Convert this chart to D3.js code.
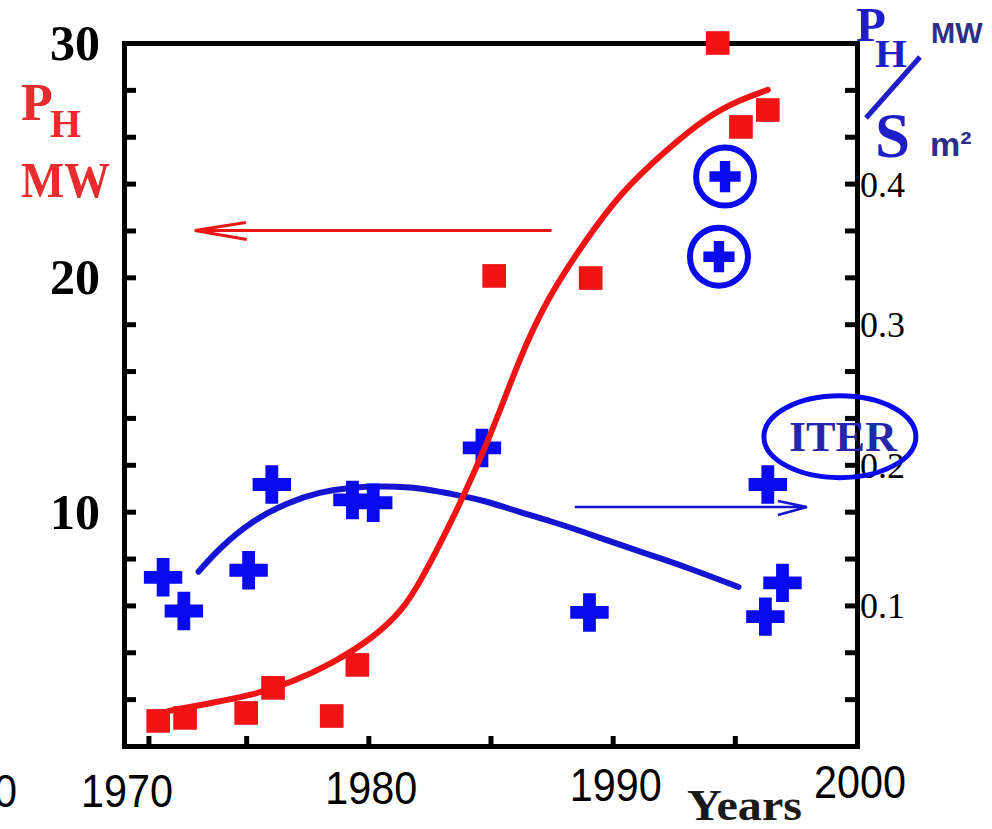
<!DOCTYPE html>
<html>
<head>
<meta charset="utf-8">
<script src="https://cdn.jsdelivr.net/npm/d3@7"></script>
<style>
  html, body { margin: 0; padding: 0; background: #fff; }
  svg { display: block; }
</style>
</head>
<body>
<script>
// Heating power P_H (MW) and power per unit surface P_H/S (MW/m²) versus year

// red squares: heating power, MW
const powerYears = [1971.4, 1972.5, 1975.0, 1976.1, 1978.5, 1979.55, 1985.15, 1989.1, 1994.3, 1995.25, 1996.35];
const powerMW    = [1.07, 1.2, 1.41, 2.48, 1.28, 3.46, 20.06, 19.97, 30.0, 26.42, 27.14];

// blue crosses: power per surface, MW/m²
const densityYears = [1971.6, 1972.45, 1975.1, 1976.05, 1979.35, 1980.2, 1984.65, 1989.05, 1996.35, 1996.95, 1996.25];
const densityVals  = [0.12, 0.096, 0.125, 0.186, 0.175, 0.173, 0.212, 0.095, 0.186, 0.116, 0.092];

// circled crosses (design values)
const circledYears = [1994.6, 1994.35];
const circledVals  = [0.405, 0.348];

// trend curve through the power points
const powerFitYears = [1971.8, 1973.8, 1975.3, 1976.9, 1978.55, 1980.2, 1981.4, 1982.1, 1983.45, 1985.0, 1986.2, 1987.3, 1988.7, 1990.3, 1992.2, 1993.85, 1995.2, 1996.35];
const powerFitMW    = [1.49, 1.88, 2.18, 2.73, 3.54, 4.61, 5.8, 6.95, 9.65, 13.19, 16.6, 19.04, 21.3, 23.6, 25.44, 26.85, 27.57, 28.0];

// trend curve through the power-per-surface points
const densityFitYears = [1973.05, 1973.95, 1975.3, 1976.65, 1978.0, 1979.35, 1980.7, 1982.25, 1983.35, 1984.7, 1986.2, 1987.45, 1988.7, 1990.2, 1991.55, 1992.9, 1995.15];
const densityFitVals  = [0.124, 0.1416, 0.1608, 0.1729, 0.1807, 0.1842, 0.1849, 0.1835, 0.1793, 0.175, 0.1662, 0.16, 0.1529, 0.1437, 0.1358, 0.128, 0.1131];

// axis ticks and labels
const yearLabels     = [1970, 1980, 1990, 2000];
const yearTicks      = [1971, 1975, 1980, 1985, 1990, 1995];
const powerLabels    = [10, 20, 30];
const powerTicks     = [2, 4, 6, 8, 10, 12, 14, 16, 18, 20, 22, 24, 26, 28];
const densityLabels  = [0.1, 0.2, 0.3, 0.4];

const W = 992, H = 829;
const plotLeft = 124, plotRight = 857, plotTop = 43, plotBottom = 746;

const RED = "#f01414", RED_TEXT = "#e62c2c", BLUE = "#0a0af0", BLUE_LINE = "#1414d2",
      BLUE_TEXT = "#1e1ec8", NAVY = "#2e2e88";
const serif = "Liberation Serif, Times New Roman, serif";
const sans = "Liberation Sans, Arial, Helvetica, sans-serif";

const svg = d3.select("body").append("svg")
  .attr("width", W).attr("height", H)
  .style("background", "#fff");

const x  = d3.scaleLinear().domain([1970, 2000]).range([plotLeft, plotRight]);
const yP = d3.scaleLinear().domain([0, 30]).range([plotBottom, plotTop]);
const yD = d3.scaleLinear().domain([0, 0.5]).range([plotBottom, plotTop]);

// ---- frame and axes ----
const styleAxis = g => {
  g.select(".domain").attr("stroke", "#000").attr("stroke-width", 5).attr("stroke-linecap", "square");
  g.selectAll(".tick line").attr("stroke", "#000").attr("stroke-width", 5);
  g.selectAll(".tick text").remove();
};

svg.append("g").attr("transform", `translate(${plotLeft},0)`)
  .call(d3.axisLeft(yP).tickValues(powerTicks).tickSize(-12).tickSizeOuter(0).tickFormat(""))
  .call(styleAxis);

svg.append("g").attr("transform", `translate(${plotRight},0)`)
  .call(d3.axisRight(yP).tickValues(powerTicks).tickSize(-12).tickSizeOuter(0).tickFormat(""))
  .call(styleAxis);

svg.append("g").attr("transform", `translate(0,${plotBottom})`)
  .call(d3.axisBottom(x).tickValues(yearTicks).tickSize(-10).tickSizeOuter(0).tickFormat(""))
  .call(styleAxis);

svg.append("g").attr("transform", `translate(0,${plotTop})`)
  .call(d3.axisTop(x).tickValues([]).tickSizeOuter(0))
  .call(styleAxis);

// left tick labels
svg.append("g").selectAll("text").data(powerLabels).join("text")
  .attr("x", 100).attr("y", d => yP(d) + 17)
  .attr("text-anchor", "end")
  .attr("font-family", serif)
  .attr("font-weight", "bold").attr("font-size", 50)
  .attr("fill", "#000")
  .text(d => d);

// right tick labels
svg.append("g").selectAll("text").data(densityLabels).join("text")
  .attr("x", 860).attr("y", d => yD(d) + 13)
  .attr("font-family", serif)
  .attr("font-size", 36)
  .attr("fill", "#000")
  .text(d => d3.format(".1f")(d));

// year labels
svg.append("g").selectAll("text").data(yearLabels).join("text")
  .attr("x", d => x(d) + 3).attr("y", (d, i) => 807 - i * 3)
  .attr("text-anchor", "middle")
  .attr("font-family", sans)
  .attr("font-size", 47)
  .attr("textLength", 92).attr("lengthAdjust", "spacingAndGlyphs")
  .attr("fill", "#000")
  .text(d => d);

// partial label at the very left edge
svg.append("text")
  .attr("x", 17).attr("y", 807).attr("text-anchor", "end")
  .attr("font-family", sans)
  .attr("font-size", 47)
  .attr("textLength", 92).attr("lengthAdjust", "spacingAndGlyphs")
  .attr("fill", "#000").text("1960");

svg.append("text")
  .attr("x", 687).attr("y", 820)
  .attr("font-family", serif)
  .attr("font-weight", "bold").attr("font-size", 45)
  .attr("textLength", 115).attr("lengthAdjust", "spacingAndGlyphs")
  .attr("fill", "#1a1a1a").text("Years");

// ---- left axis title: P_H / MW ----
svg.append("text").attr("x", 21).attr("y", 120)
  .attr("font-family", serif).attr("font-weight", "bold").attr("font-size", 52)
  .attr("fill", RED_TEXT).text("P");
svg.append("text").attr("x", 50).attr("y", 137)
  .attr("font-family", serif).attr("font-weight", "bold").attr("font-size", 40)
  .attr("fill", RED_TEXT).text("H");
svg.append("text").attr("x", 21).attr("y", 197)
  .attr("font-family", serif).attr("font-weight", "bold").attr("font-size", 51)
  .attr("textLength", 89).attr("lengthAdjust", "spacingAndGlyphs")
  .attr("fill", RED_TEXT).text("MW");

// ---- right axis title: P_H / S, MW / m² ----
svg.append("text").attr("x", 856).attr("y", 41)
  .attr("font-family", serif).attr("font-weight", "bold").attr("font-size", 49)
  .attr("fill", BLUE_TEXT).text("P");
svg.append("text").attr("x", 875).attr("y", 67)
  .attr("font-family", serif).attr("font-weight", "bold").attr("font-size", 41)
  .attr("fill", BLUE_TEXT).text("H");
svg.append("line").attr("x1", 920).attr("y1", 57).attr("x2", 866).attr("y2", 118)
  .attr("stroke", BLUE_TEXT).attr("stroke-width", 5);
svg.append("text").attr("x", 875).attr("y", 157)
  .attr("font-family", serif).attr("font-weight", "bold").attr("font-size", 63)
  .attr("fill", BLUE_TEXT).text("S");
svg.append("text").attr("x", 931).attr("y", 43)
  .attr("font-family", sans).attr("font-weight", "bold").attr("font-size", 29)
  .attr("fill", NAVY).text("MW");
svg.append("text").attr("x", 930).attr("y", 156)
  .attr("font-family", sans).attr("font-weight", "bold").attr("font-size", 34)
  .attr("fill", NAVY).text("m²");

// ---- arrows pointing to each axis ----
const redArrowY = yP(22), redFrom = x(1987.5), redTo = x(1972.9);
svg.append("path")
  .attr("d", `M${redFrom},${redArrowY}H${redTo}M${redTo + 51},${redArrowY - 8}L${redTo},${redArrowY}L${redTo + 52},${redArrowY + 9}`)
  .attr("fill", "none").attr("stroke", RED).attr("stroke-width", 3);

const blueArrowY = yD(0.17), blueFrom = x(1988.45), blueTo = x(1997.95);
svg.append("path")
  .attr("d", `M${blueFrom},${blueArrowY}H${blueTo}M${blueTo - 29},${blueArrowY - 6}L${blueTo},${blueArrowY}L${blueTo - 29},${blueArrowY + 8}`)
  .attr("fill", "none").attr("stroke", BLUE_LINE).attr("stroke-width", 2.5);

// ---- trend curves (smoothed B-splines through the sampled points) ----
const densityFit = densityFitYears.map((d, i) => [d, densityFitVals[i]]);
svg.append("path").datum(densityFit)
  .attr("d", d3.line().x(d => x(d[0])).y(d => yD(d[1])).curve(d3.curveBasis))
  .attr("fill", "none").attr("stroke", BLUE_LINE).attr("stroke-width", 6).attr("stroke-linecap", "round");

// ---- blue crosses ----
const cross = d3.symbol(d3.symbolCross, 820);
svg.append("g").selectAll("path").data(densityYears.map((d, i) => [d, densityVals[i]])).join("path")
  .attr("transform", d => `translate(${x(d[0])},${yD(d[1])})`)
  .attr("d", cross).attr("fill", BLUE);

// circled crosses
const smallCross = d3.symbol(d3.symbolCross, 540);
const circled = svg.append("g").selectAll("g").data(circledYears.map((d, i) => [d, circledVals[i]])).join("g")
  .attr("transform", d => `translate(${x(d[0])},${yD(d[1])})`);
circled.append("circle").attr("r", 29).attr("fill", "none").attr("stroke", BLUE).attr("stroke-width", 6);
circled.append("path").attr("d", smallCross).attr("fill", BLUE);

const powerFit = powerFitYears.map((d, i) => [d, powerFitMW[i]]);
svg.append("path").datum(powerFit)
  .attr("d", d3.line().x(d => x(d[0])).y(d => yP(d[1])).curve(d3.curveBasis))
  .attr("fill", "none").attr("stroke", RED).attr("stroke-width", 6).attr("stroke-linecap", "round");

// ---- red squares ----
const square = d3.symbol(d3.symbolSquare, 560);
svg.append("g").selectAll("path").data(powerYears.map((d, i) => [d, powerMW[i]])).join("path")
  .attr("transform", d => `translate(${x(d[0])},${yP(d[1])})`)
  .attr("d", square).attr("fill", RED);

// ---- ITER marker ----
const iterYear = 1999.3, iterLevel = 0.22;
svg.append("ellipse")
  .attr("cx", x(iterYear)).attr("cy", yD(iterLevel)).attr("rx", 76).attr("ry", 41)
  .attr("fill", "none").attr("stroke", BLUE).attr("stroke-width", 5);
svg.append("text").attr("x", x(iterYear) + 3).attr("y", yD(iterLevel) + 14)
  .attr("text-anchor", "middle")
  .attr("font-family", serif).attr("font-weight", "bold").attr("font-size", 43)
  .attr("textLength", 108).attr("lengthAdjust", "spacingAndGlyphs")
  .attr("fill", "#2626aa").text("ITER");
</script>
</body>
</html>
